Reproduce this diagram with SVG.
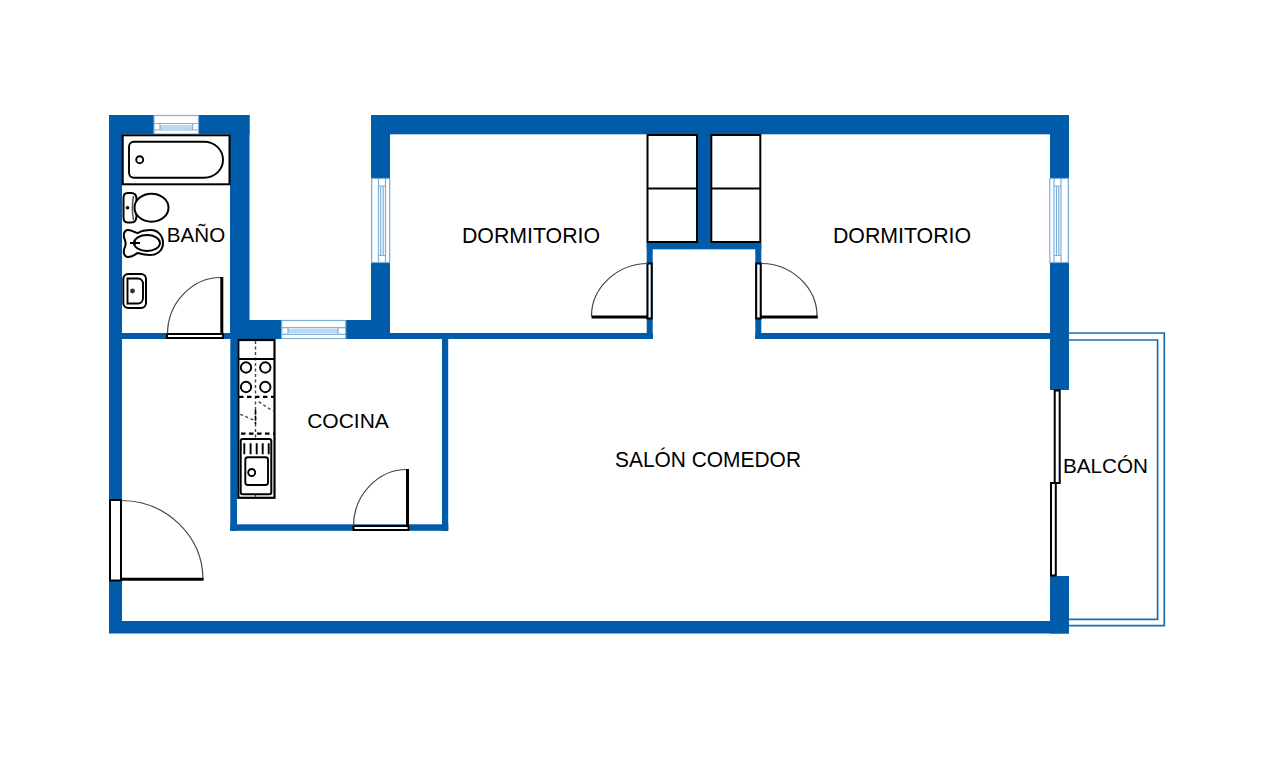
<svg xmlns="http://www.w3.org/2000/svg" width="1280" height="757" viewBox="0 0 1280 757">
<style>
.wall{fill:#005ca9}
.bal{fill:none;stroke:#1a6db2;stroke-width:1.7}
.win{fill:#fff;stroke:#7eb0da;stroke-width:1.2}
.ln{fill:none;stroke:#000;stroke-width:1.9}
.fx{fill:#fff;stroke:#000;stroke-width:2}
.dr{fill:#fff;stroke:#000;stroke-width:2}
.hv{fill:none;stroke:#000;stroke-width:3}
.arc{fill:none;stroke:#444;stroke-width:1.2}
.ds{fill:none;stroke:#444;stroke-width:1.4;stroke-dasharray:3 2.5}
.dk{fill:none;stroke:#000;stroke-width:2.2;stroke-dasharray:4.5 3.5}
text{font-family:"Liberation Sans",Arial,sans-serif;font-size:21px;fill:#000;text-anchor:middle}
.dorm{font-size:21.3px}
.small{font-size:20.6px}
</style>
<rect width="1280" height="757" fill="#fff"/>
<g id="balcony-rail">
<path class="bal" d="M1069 333H1164.300V625.700H1069"/>
<path class="bal" d="M1069 340H1157.600V619.300H1069"/>
</g>
<g id="walls">
<rect class="wall" x="109" y="115" width="13" height="385"/>
<rect class="wall" x="109" y="581" width="13" height="52"/>
<rect class="wall" x="109" y="621" width="960" height="12.500"/>
<rect class="wall" x="109" y="115" width="140.500" height="19.300"/>
<rect class="wall" x="230" y="115" width="19.500" height="224"/>
<rect class="wall" x="122" y="333" width="108" height="6"/>
<rect class="wall" x="230" y="320" width="160" height="19"/>
<rect class="wall" x="371" y="115" width="19" height="224"/>
<rect class="wall" x="371" y="115" width="698" height="19.300"/>
<rect class="wall" x="390" y="333" width="263" height="6"/>
<rect class="wall" x="646.700" y="243" width="6" height="96"/>
<rect class="wall" x="646.700" y="243" width="114.600" height="6.300"/>
<rect class="wall" x="697.300" y="134" width="13.400" height="115"/>
<rect class="wall" x="755.300" y="243" width="6" height="96"/>
<rect class="wall" x="755.300" y="333" width="295" height="6"/>
<rect class="wall" x="1050" y="115" width="19" height="275"/>
<rect class="wall" x="1050" y="576" width="19" height="57.500"/>
<rect class="wall" x="230.300" y="320" width="6.700" height="211"/>
<rect class="wall" x="442" y="339" width="6.200" height="192"/>
<rect class="wall" x="230.300" y="524.300" width="218" height="6.500"/>
</g>
<g id="windows">
<g id="window-bath">
<rect class="win" x="154" y="115.500" width="44.500" height="18.500"/>
<path class="win" d="M154 123.500H198.500M160 123.500V130M192.500 123.500V130M154 130H198.500M160 126H192.500M160 128H192.500"/>
</g>
<g id="window-kitchen">
<rect class="win" x="281.700" y="320.500" width="64" height="18"/>
<path class="win" d="M281.700 327.700H345.700M288 327.700V334.300M338 327.700V334.300M281.700 334.300H345.700M288 330H338M288 332H338"/>
</g>
<g id="window-dorm-left">
<rect class="win" x="371.700" y="178.500" width="18" height="84"/>
<path class="win" d="M378.500 178.500V262.500M378.500 186H385.500M378.500 255.500H385.500M385.500 178.500V262.500M380.700 186V255.500M383.200 186V255.500"/>
</g>
<g id="window-dorm-right">
<rect class="win" x="1049.800" y="178.500" width="18.500" height="84"/>
<path class="win" d="M1054 178.500V262.500M1054 186H1061M1054 255.500H1061M1061 178.500V262.500M1056.500 186V255.500M1058.800 186V255.500"/>
</g>
</g>
<g id="door-entry">
<rect class="dr" x="110" y="500" width="11" height="80.500"/>
<path class="arc" d="M121 500.500C165 500.500 203 535 203 580"/>
<path class="hv" d="M121 579.300H203.500"/>
</g>
<g id="door-bath">
<rect class="dr" x="167" y="334" width="56" height="4"/>
<path class="arc" d="M167.500 334C167.500 303 192 277.500 221 277.500"/>
<path class="hv" d="M221.800 277V334"/>
</g>
<g id="door-kitchen">
<rect class="dr" x="353.500" y="526" width="55" height="4"/>
<path class="arc" d="M353.500 526C353.500 495 378 469.500 407 469.500"/>
<path class="hv" d="M407.500 469V526"/>
</g>
<g id="door-dorm-left">
<rect class="dr" x="647.500" y="263.500" width="4.200" height="55"/>
<path class="arc" d="M591.500 316C591.500 287 618 263.500 648 263.500"/>
<path class="hv" d="M591.500 317H648"/>
</g>
<g id="door-dorm-right">
<rect class="dr" x="756.200" y="263.500" width="4.500" height="55"/>
<path class="arc" d="M761 263.500C791 263.500 817 287 817 316"/>
<path class="hv" d="M760.500 317H817.800"/>
</g>
<g id="door-balcony">
<rect class="dr" x="1054.700" y="390.500" width="5" height="92.500"/>
<rect class="dr" x="1051" y="483" width="4.800" height="92.500"/>
</g>
<g id="closet-left">
<rect class="fx" x="647.500" y="135" width="49.500" height="107"/>
<path class="ln" d="M647.500 188.500H697"/>
</g>
<g id="closet-right">
<rect class="fx" x="711.300" y="135" width="49" height="107"/>
<path class="ln" d="M711.300 188.500H760.300"/>
</g>
<g id="bathtub">
<rect class="fx" x="122.700" y="135.300" width="106.800" height="49"/>
<path class="ln" d="M134 141.800H204C215 141.800 223 150 223 159.700S215 177.700 204 177.700H134C131 177.700 129 175.500 129 172.500V147C129 144 131 141.800 134 141.800Z"/>
<circle class="ln" cx="139.700" cy="159.700" r="3.500"/>
</g>
<g id="toilet">
<path class="fx" d="M127.500 193H131C135 193 136.500 196 136.500 199V216C136.500 220 135 222.500 131 222.500H127.500C124.500 222.500 123.500 220 123.500 217V198C123.500 195 124.500 193 127.500 193Z"/>
<ellipse class="fx" cx="151.500" cy="207.700" rx="17" ry="14"/>
<path d="M133.500 196C132 204 132 212 133.500 220" fill="none" stroke="#555" stroke-width="1.500"/>
<circle cx="127.500" cy="207.700" r="1.800" fill="#000"/>
</g>
<g id="bidet">
<path class="fx" d="M128 230C133 230 135 233 138 233C141 231 146 230 151 230C158 230 163 236 163 243C163 250 158 255 150 255C145 255 141 254 138 253C135 254 133 257 128 257C124 257 123 252 124.500 248C126 245 126 242 124.500 239C123 235 124 230 128 230Z"/>
<ellipse class="ln" cx="147" cy="243" rx="13" ry="8"/>
<path class="ln" d="M130 243H140M134.500 240.500V245.500"/>
</g>
<g id="basin">
<rect class="fx" x="123.300" y="274" width="22.700" height="34" rx="5"/>
<path class="ln" d="M127.500 278.500H138C141 278.500 143 281 143 284V298C143 301 141 303.500 138 303.500H127.500Z"/>
<circle cx="132.500" cy="291" r="2.400" fill="#333"/>
</g>
<g id="kitchen-counter">
<rect x="238.300" y="340" width="36.200" height="157.800" fill="#fff" stroke="#000" stroke-width="2.200"/>
<path class="ds" d="M255.500 341V497"/>
<path class="ln" d="M238 359H274.500"/>
<circle class="ln" cx="246" cy="367.500" r="5.200"/>
<circle class="ln" cx="265.300" cy="367.500" r="5.200"/>
<circle class="ln" cx="246" cy="387" r="5.200"/>
<circle class="ln" cx="265.300" cy="387" r="5.200"/>
<path class="dk" d="M239 396.800H274"/>
<path class="dk" d="M241 433.700H274"/>
<path class="ds" d="M240.300 414.300L256 421M258.700 401.700L272.700 411"/>
<path d="M255.500 410V424" fill="none" stroke="#000" stroke-width="1.600" stroke-dasharray="4 2"/>
<rect class="fx" x="240.700" y="439" width="30.600" height="55.300" rx="2"/>
<path class="ln" d="M244.300 443.300V454.300M250.600 443.300V454.300M256.700 443.300V454.300M262.700 443.300V454.300M268.700 443.300V454.300"/>
<rect class="ln" x="245.300" y="457.300" width="22.700" height="27.700" rx="2.500"/>
<circle class="ln" cx="251.700" cy="472.500" r="3.500"/>
</g>
<g id="labels">
<text class="small" x="196" y="242">BAÑO</text>
<text class="dorm" x="531" y="243">DORMITORIO</text>
<text class="dorm" x="902" y="243">DORMITORIO</text>
<text x="348" y="428">COCINA</text>
<text class="dorm" x="708" y="467" textLength="186" lengthAdjust="spacingAndGlyphs">SALÓN COMEDOR</text>
<text x="1105.500" y="473" textLength="85" lengthAdjust="spacingAndGlyphs">BALCÓN</text>
</g>
</svg>
